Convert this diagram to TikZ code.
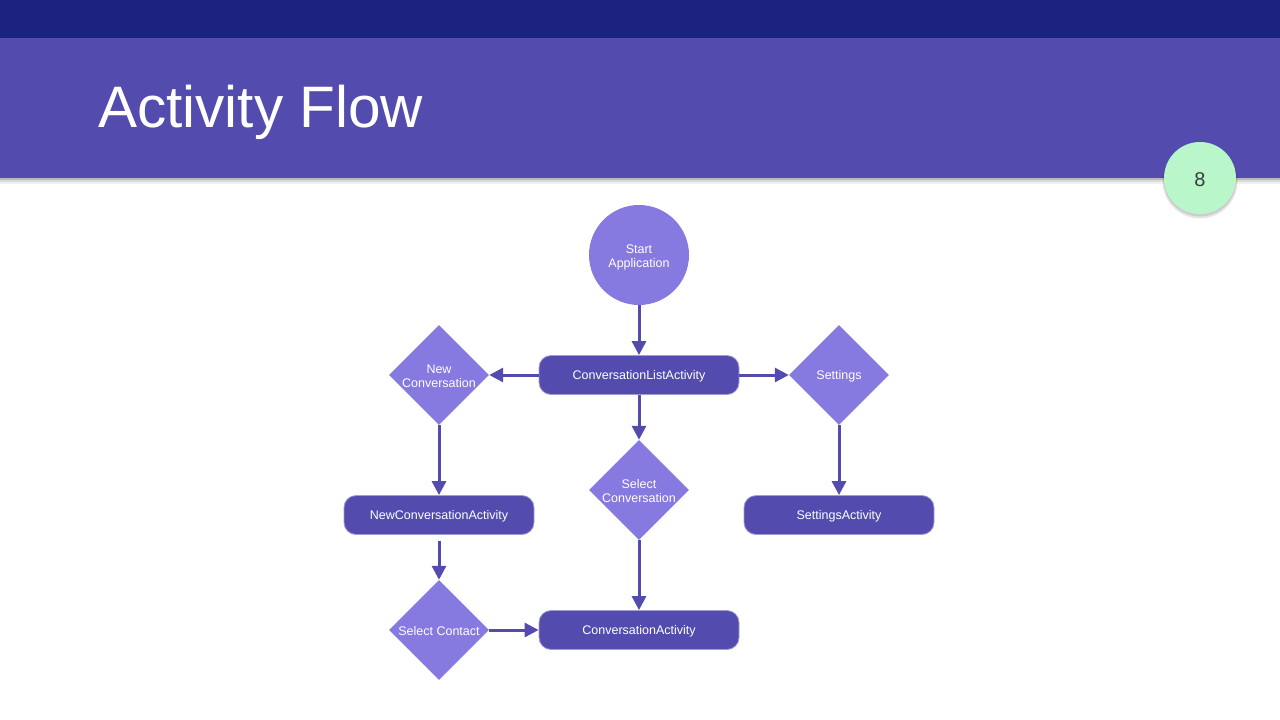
\documentclass[tikz,border=0pt]{standalone}
\usepackage{fontspec}
\setmainfont{Liberation Sans}
\usetikzlibrary{shapes.geometric,arrows.meta}

\definecolor{barnavy}{HTML}{1B237F}
\definecolor{headpurple}{HTML}{534CAE}
\definecolor{lightpurple}{HTML}{8679E0}
\definecolor{pagegreen}{HTML}{B9F6CA}
\definecolor{pagetext}{HTML}{37403F}

\tikzset{
  activity/.style={rectangle, rounded corners=12pt, fill=headpurple, draw=headpurple!55!white,
    line width=0.8pt, text=white, minimum height=39pt, inner sep=0pt, text depth=0pt, font=\nodefont},
  decision/.style={diamond, fill=lightpurple, minimum width=100pt, minimum height=100pt, inner sep=0pt},
  dtext/.style={text=white, align=center, font=\nodefont, yshift=-1pt},
  flow/.style={->, line width=3pt, draw=headpurple},
}
\newcommand{\nodefont}{\fontsize{12.5}{14}\selectfont}

\begin{document}
\begin{tikzpicture}[x=1pt, y=-1pt, >={Triangle[length=14pt,width=14pt]}]

% Page
\useasboundingbox (0,0) rectangle (1280,720);
\fill[white] (0,0) rectangle (1280,720);

% Header bars and shadow
\fill[black, opacity=0.28] (0,178) rectangle (1280,180);
\fill[black, opacity=0.14] (0,180) rectangle (1280,182);
\fill[black, opacity=0.06] (0,182) rectangle (1280,184);
\fill[headpurple] (0,38) rectangle (1280,178);
\fill[barnavy] (0,0) rectangle (1280,38);
\node[anchor=base west, inner sep=0pt, text=white, font=\fontsize{58.5}{60}\selectfont] (title) at (98,127) {Activity Flow};

% Page number
\fill[black, opacity=0.10] (1200,181) circle (37.5);
\fill[black, opacity=0.10] (1200,180) circle (36.5);
\node[circle, fill=pagegreen, minimum size=72pt, inner sep=0pt,
  label={[text=pagetext, font=\fontsize{20}{20}\selectfont, yshift=-1.5pt]center:8}] (page) at (1200,178) {};

% Start
\node[circle, fill=lightpurple, minimum size=100pt, inner sep=0pt,
  label={[dtext, yshift=-1.5pt]center:Start\\Application}] (start) at (639,255) {};

% Activities
\node[activity, minimum width=200pt] (convlist) at (639,375) {ConversationListActivity};
\node[activity, minimum width=190pt] (newconvact) at (439,515) {NewConversationActivity};
\node[activity, minimum width=190pt] (settingsact) at (839,515) {SettingsActivity};
\node[activity, minimum width=200pt] (convact) at (639,630) {ConversationActivity};

% Decisions
\node[decision, label={[dtext]center:New\\Conversation}] (newconv) at (439,375) {};
\node[decision, label={[dtext]center:Settings}] (settings) at (839,375) {};
\node[decision, label={[dtext]center:Select\\Conversation}] (selconv) at (639,490) {};
\node[decision, label={[dtext]center:Select Contact}] (selcontact) at (439,630) {};

% Flow
\draw[flow] (start) -- (convlist);
\draw[flow] (convlist) -- (newconv);
\draw[flow] (convlist) -- (settings);
\draw[flow] (convlist) -- (selconv);
\draw[flow] (newconv) -- (newconvact);
\draw[flow] (settings) -- (settingsact);
\draw[flow, shorten <=6pt] (newconvact) -- (selcontact);
\draw[flow] (selconv) -- (convact);
\draw[flow] (selcontact) -- (convact);

\end{tikzpicture}
\end{document}
